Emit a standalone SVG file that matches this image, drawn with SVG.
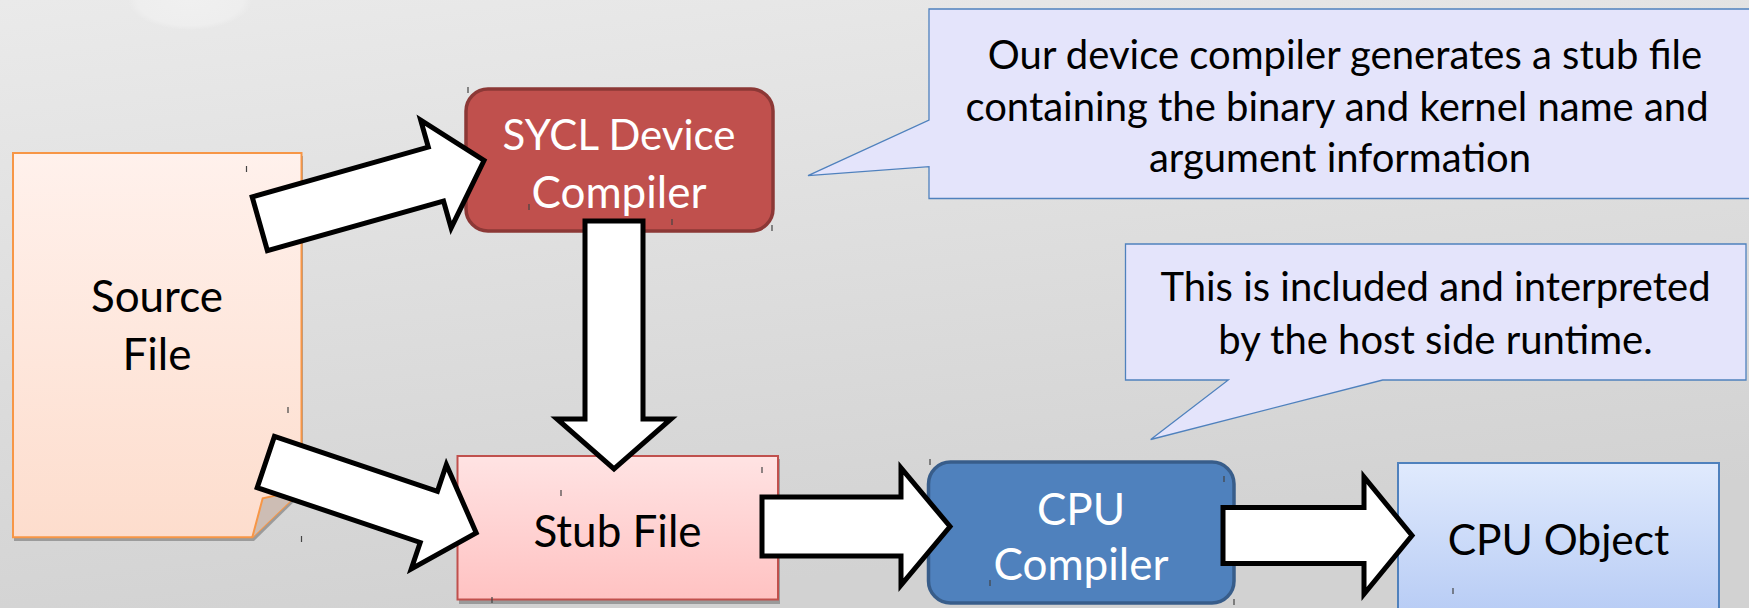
<svg xmlns="http://www.w3.org/2000/svg" width="1749" height="608" viewBox="0 0 1749 608">
  <defs>
    <linearGradient id="bg" x1="0" y1="0" x2="0.3" y2="1">
      <stop offset="0" stop-color="#EAEAEA"/>
      <stop offset="1" stop-color="#D2D2D2"/>
    </linearGradient>
    <radialGradient id="blob" cx="0.5" cy="0.5" r="0.5">
      <stop offset="0" stop-color="#F0F0F0"/>
      <stop offset="0.85" stop-color="#EEEEEE"/>
      <stop offset="1" stop-color="#EEEEEE" stop-opacity="0"/>
    </radialGradient>
    <linearGradient id="gPage" x1="0" y1="0" x2="0" y2="1">
      <stop offset="0" stop-color="#FFF1EC"/>
      <stop offset="1" stop-color="#FDDDCD"/>
    </linearGradient>
    <linearGradient id="gStub" x1="0" y1="0" x2="0" y2="1">
      <stop offset="0" stop-color="#FFE3E3"/>
      <stop offset="1" stop-color="#FFC2C2"/>
    </linearGradient>
    <linearGradient id="gObj" x1="0" y1="0" x2="0" y2="1">
      <stop offset="0" stop-color="#E0EAFD"/>
      <stop offset="1" stop-color="#B9CDF5"/>
    </linearGradient>
    <style>
      .lbl { font-family: Lato, "Open Sans", "Liberation Sans", sans-serif; text-anchor: middle; }
      .big { font-size: 44px; }
      .note { font-size: 40px; fill: #000; }
      .dark { fill: #000; }
      .white { fill: #fff; }
      .blk { fill: #fff; stroke: #000; stroke-width: 5; stroke-linejoin: miter; }
      .call { fill: #E4E4FB; stroke: #4F81BD; stroke-width: 1.3; stroke-linejoin: miter; }
      .shadow { fill: #8C8C8C; opacity: 0.8; }
      .mark { stroke: #444; stroke-width: 1.2; }
    </style>
  </defs>

  <!-- background -->
  <rect x="0" y="0" width="1749" height="608" fill="url(#bg)"/>
  <ellipse cx="190" cy="0" rx="62" ry="30" fill="url(#blob)"/>

  <!-- Source File -->
  <g id="node-source">
    <path class="shadow" d="M14,156 L303,156 L303,493 L254,541 L14,541 Z"/>
    <path d="M13,153 L301.5,153 L301.5,490 L252.3,537.3 L13,537.3 Z" fill="url(#gPage)" stroke="#F79646" stroke-width="2"/>
    <path d="M262.7,498.3 L301.5,490 L252.3,537.3 Z" fill="#CDBDB4"/>
    <path d="M301.5,490 L262.7,498.3 L252.3,537.3" fill="none" stroke="#F79646" stroke-width="2"/>
    <text class="lbl big dark" x="157" y="311.5">Source</text>
    <text class="lbl big dark" x="157" y="370">File</text>
  </g>

  <!-- SYCL Device Compiler -->
  <g id="node-sycl">
    <rect x="466" y="89" width="307" height="142" rx="22" ry="22" fill="#C0504D" stroke="#8C3836" stroke-width="3.5"/>
    <text class="lbl white" x="619" y="150" font-size="42">SYCL Device</text>
    <text class="lbl big white" x="619" y="208">Compiler</text>
  </g>

  <!-- Stub File -->
  <g id="node-stub">
    <rect class="shadow" x="459" y="459" width="321" height="145"/>
    <rect x="457.5" y="456" width="320.5" height="143.5" fill="url(#gStub)" stroke="#C0504D" stroke-width="2"/>
    <text class="lbl big dark" x="617.5" y="546.5">Stub File</text>
  </g>

  <!-- CPU Compiler -->
  <g id="node-cpucomp">
    <rect x="928.5" y="462" width="305.5" height="141" rx="22" ry="22" fill="#4F81BD" stroke="#385D8A" stroke-width="3.5"/>
    <text class="lbl big white" x="1081" y="524.5">CPU</text>
    <text class="lbl big white" x="1081" y="580">Compiler</text>
  </g>

  <!-- CPU Object -->
  <g id="node-cpuobj">
    <rect x="1398" y="463" width="321" height="146" fill="url(#gObj)" stroke="#4F81BD" stroke-width="2"/>
    <text class="lbl dark" x="1558.5" y="555" font-size="42.5">CPU Object</text>
  </g>

  <!-- Callout 1 -->
  <g id="callout-1">
    <path class="call" d="M929,9 L1760,9 L1760,198.5 L929,198.5 L929,166.7 L808,175.7 L929,120 Z"/>
    <text class="lbl note" x="1345" y="69">Our device compiler generates a stub file</text>
    <text class="lbl note" x="1337" y="120.5">containing the binary and kernel name and</text>
    <text class="lbl note" x="1340" y="172">argument information</text>
  </g>

  <!-- Callout 2 -->
  <g id="callout-2">
    <path class="call" d="M1125.5,244 L1746,244 L1746,380 L1382.7,380 L1150.7,439.5 L1228.3,380 L1125.5,380 Z"/>
    <text class="lbl note" x="1435.5" y="301">This is included and interpreted</text>
    <text class="lbl note" x="1435.5" y="353.5">by the host side runtime.</text>
  </g>

  <!-- connectors -->
  <g id="connectors">
    <polygon class="blk" transform="translate(259.8,223.8) rotate(-15.77)" points="0,-28 183,-28 183,-56 233,0 183,56 183,28 0,28"/>
    <polygon class="blk" transform="translate(265.8,462) rotate(18.6)" points="0,-27 172,-27 172,-55 222,0 172,55 172,27 0,27"/>
    <polygon class="blk" points="585,221 643,221 643,419 671,419 614,469 557,419 585,419"/>
    <polygon class="blk" points="762,497 901,497 901,468 950,526.5 901,585 901,556 762,556"/>
    <polygon class="blk" points="1223,507.5 1364,507.5 1364,477 1412,535.5 1364,594 1364,563.5 1223,563.5"/>
  </g>

  <!-- small anchor marks -->
  <g id="marks">
    <line class="mark" x1="246.5" y1="166" x2="246.5" y2="172"/>
    <line class="mark" x1="288" y1="407" x2="288" y2="413"/>
    <line class="mark" x1="301.5" y1="536" x2="301.5" y2="542"/>
    <line class="mark" x1="468" y1="87" x2="468" y2="93"/>
    <line class="mark" x1="529" y1="204" x2="529" y2="210"/>
    <line class="mark" x1="672" y1="219" x2="672" y2="225"/>
    <line class="mark" x1="772" y1="225" x2="772" y2="231"/>
    <line class="mark" x1="561" y1="490" x2="561" y2="496"/>
    <line class="mark" x1="762" y1="467" x2="762" y2="473"/>
    <line class="mark" x1="492" y1="597" x2="492" y2="603"/>
    <line class="mark" x1="930" y1="459" x2="930" y2="465"/>
    <line class="mark" x1="1224" y1="476" x2="1224" y2="482"/>
    <line class="mark" x1="990" y1="580" x2="990" y2="586"/>
    <line class="mark" x1="1234" y1="599" x2="1234" y2="605"/>
    <line class="mark" x1="1453" y1="588" x2="1453" y2="594"/>
  </g>
</svg>
